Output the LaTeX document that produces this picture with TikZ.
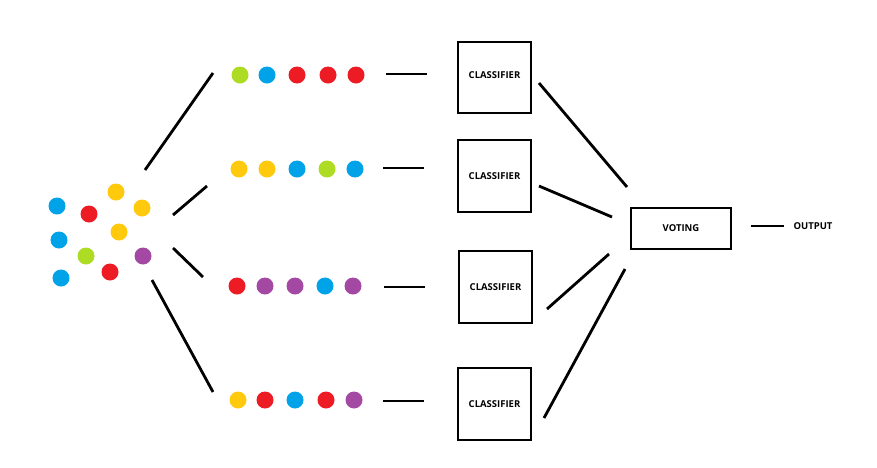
\documentclass[tikz,border=0pt]{standalone}
\usepackage{fontspec}
\setsansfont{Open Sans}
\usetikzlibrary{positioning}
\definecolor{dotgreen}{HTML}{AEDC24}
\definecolor{dotblue}{HTML}{00A2E8}
\definecolor{dotred}{HTML}{ED1C24}
\definecolor{dotyellow}{HTML}{FFC90E}
\definecolor{dotpurple}{HTML}{A349A4}

\begin{document}
\begin{tikzpicture}[x=1pt, y=-1pt, line width=2.8pt,
        dot/.style={circle, inner sep=0pt, minimum size=17pt},
        box/.style={draw, line width=2.8pt, inner sep=0pt, font=\sffamily\bfseries\fontsize{9.5}{11}\selectfont},
        word/.style={inner sep=0pt, font=\sffamily\bfseries\fontsize{9.5}{11}\selectfont}]
    \useasboundingbox (0,0) rectangle (877,467);

    % the full data set
    \node[dot, fill=dotblue]   (s1)  at (57,206) {};
    \node[dot, fill=dotred]    (s2)  at (89,214) {};
    \node[dot, fill=dotyellow] (s3)  at (116,192) {};
    \node[dot, fill=dotyellow] (s4)  at (142,208) {};
    \node[dot, fill=dotblue]   (s5)  at (59,240) {};
    \node[dot, fill=dotyellow] (s6)  at (119,232) {};
    \node[dot, fill=dotgreen]  (s7)  at (86,256) {};
    \node[dot, fill=dotpurple] (s8)  at (143,256) {};
    \node[dot, fill=dotred]    (s9)  at (110,272) {};
    \node[dot, fill=dotblue]   (s10) at (61,278) {};

    % bootstrap samples
    \node[dot, fill=dotgreen]  (a1) at (240,75) {};
    \node[dot, fill=dotblue]   (a2) at (267,75) {};
    \node[dot, fill=dotred]    (a3) at (297,75) {};
    \node[dot, fill=dotred]    (a4) at (328,75) {};
    \node[dot, fill=dotred]    (a5) at (356,75) {};

    \node[dot, fill=dotyellow] (b1) at (239,169) {};
    \node[dot, fill=dotyellow] (b2) at (267,169) {};
    \node[dot, fill=dotblue]   (b3) at (297,169) {};
    \node[dot, fill=dotgreen]  (b4) at (327,169) {};
    \node[dot, fill=dotblue]   (b5) at (355,169) {};

    \node[dot, fill=dotred]    (c1) at (237,286) {};
    \node[dot, fill=dotpurple] (c2) at (265,286) {};
    \node[dot, fill=dotpurple] (c3) at (295,286) {};
    \node[dot, fill=dotblue]   (c4) at (325,286) {};
    \node[dot, fill=dotpurple] (c5) at (353,286) {};

    \node[dot, fill=dotyellow] (d1) at (238,400) {};
    \node[dot, fill=dotred]    (d2) at (265,400) {};
    \node[dot, fill=dotblue]   (d3) at (295,400) {};
    \node[dot, fill=dotred]    (d4) at (326,400) {};
    \node[dot, fill=dotpurple] (d5) at (354,400) {};

    % classifiers and vote
    \node[box, minimum width=73pt, minimum height=71pt] (k1) at (494.5,77.5) {\raisebox{4pt}{CLASSIFIER}};
    \node[box, minimum width=73pt, minimum height=72pt] (k2) at (494.5,176) {CLASSIFIER};
    \node[box, minimum width=73pt, minimum height=72pt] (k3) at (495.5,287) {CLASSIFIER};
    \node[box, minimum width=73pt, minimum height=72pt] (k4) at (494.5,404) {CLASSIFIER};
    \node[box, minimum width=100pt, minimum height=41pt] (vote) at (681,228.5) {VOTING};
    \node[word] (out) at (813,226) {OUTPUT};

    % free line ends
    \coordinate (sa0) at (145,170);  \coordinate (sa1) at (213,73);
    \coordinate (sb0) at (173,215);  \coordinate (sb1) at (207,186);
    \coordinate (sc0) at (173,248);  \coordinate (sc1) at (203,277);
    \coordinate (sd0) at (152,280);  \coordinate (sd1) at (213,392);
    \coordinate (ka0) at (386,74);   \coordinate (ka1) at (427,74);
    \coordinate (kb0) at (383,168);  \coordinate (kb1) at (424,168);
    \coordinate (kc0) at (384,287);  \coordinate (kc1) at (425,287);
    \coordinate (kd0) at (383,401);  \coordinate (kd1) at (424,401);
    \coordinate (va0) at (539,83);   \coordinate (va1) at (627,187);
    \coordinate (vb0) at (539,186);  \coordinate (vb1) at (612,217);
    \coordinate (vc0) at (547,309);  \coordinate (vc1) at (609,254);
    \coordinate (vd0) at (544,418);  \coordinate (vd1) at (625,269);
    \coordinate (o0) at (751,226);   \coordinate (o1) at (784,226);

    \draw (sa0) -- (sa1);
    \draw (sb0) -- (sb1);
    \draw (sc0) -- (sc1);
    \draw (sd0) -- (sd1);
    \draw (ka0) -- (ka1);
    \draw (kb0) -- (kb1);
    \draw (kc0) -- (kc1);
    \draw (kd0) -- (kd1);
    \draw (va0) -- (va1);
    \draw (vb0) -- (vb1);
    \draw (vc0) -- (vc1);
    \draw (vd0) -- (vd1);
    \draw (o0) -- (o1);
\end{tikzpicture}
\end{document}
